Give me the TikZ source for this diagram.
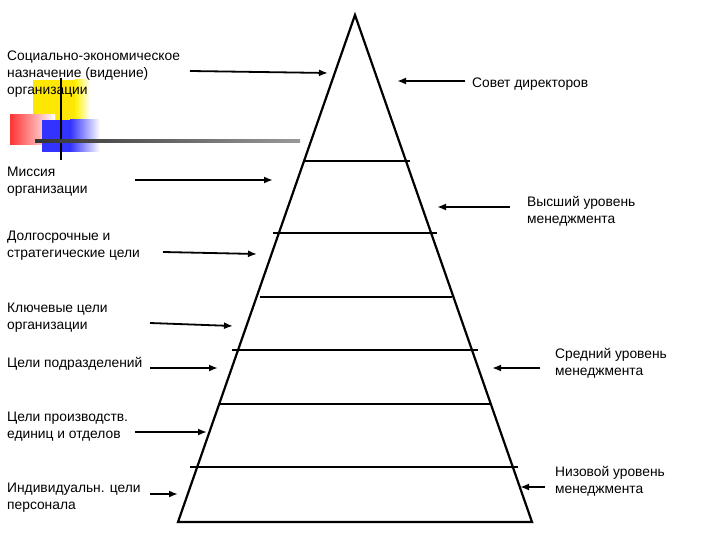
\documentclass[tikz,border=0pt]{standalone}
\usepackage{fontspec}
\setmainfont{Liberation Sans}
\usetikzlibrary{arrows.meta}
\begin{document}
\begin{tikzpicture}[x=1pt,y=-1pt,
 lbl/.style={anchor=north west,align=left,inner sep=0pt,font=\fontsize{13.8}{17}\selectfont},
 arr/.style={-{Latex[length=9pt,width=7pt]},line width=1.8pt},
 lvl/.style={line width=1.8pt}]
\useasboundingbox (0,0) rectangle (720,540);
% decoration
\fill[yellow!90!orange] (33,80) rectangle (75,120);
\shade[left color=yellow!90!orange,right color=white] (75,80) rectangle (90,120);
\shade[left color=red!80,right color=white] (10,115) rectangle (55,145);
\fill[blue!80] (42,120) rectangle (70,152);
\shade[left color=blue!80,right color=white] (70,120) rectangle (100,152);
\draw[line width=2pt] (61,78) -- (61,160);
\shade[left color=black!80,right color=black!40] (35,140) rectangle (300,142.5);
% pyramid
\coordinate (apex) at (355,15);
\coordinate (bl) at (178,522);
\coordinate (br) at (532,522);
\draw[line width=2.2pt,line join=miter] (apex) -- (bl) -- (br) -- cycle;
\foreach \y/\a/\b in {161/303/410,233/273/437,297/260/452,350/232/478,404/220/490,467/190/518}
  \draw[lvl] (\a,\y) -- (\b,\y);
% left labels
\node[lbl] (t1) at (7,51) {Социально-экономическое\\назначение (видение)\\организации};
\node[lbl] (t2) at (7,167) {Миссия\\организации};
\node[lbl] (t3) at (7,231) {Долгосрочные и\\стратегические цели};
\node[lbl] (t4) at (7,303) {Ключевые цели\\организации};
\node[lbl] (t5) at (7,357) {Цели подразделений};
\node[lbl] (t6) at (7,412) {Цели производств.\\единиц и отделов};
\node[lbl] (t7) at (7,483) {Индивидуальн. цели\\персонала};
\node[lbl] (r1) at (472,78) {Совет директоров};
\node[lbl] (r2) at (527,196) {Высший уровень\\менеджмента};
\node[lbl] (r3) at (555,348) {Средний уровень\\менеджмента};
\node[lbl] (r4) at (555,466) {Низовой уровень\\менеджмента};
% arrows
\coordinate (a1) at (190,71); \coordinate (b1) at (328,73);
\coordinate (a2) at (135,180); \coordinate (b2) at (273,180);
\coordinate (a3) at (163,252); \coordinate (b3) at (257,254);
\coordinate (a4) at (150,323); \coordinate (b4) at (233,326);
\coordinate (a5) at (150,368); \coordinate (b5) at (218,368);
\coordinate (a6) at (135,432); \coordinate (b6) at (207,432);
\coordinate (a7) at (150,494); \coordinate (b7) at (178,494);
\foreach \i in {1,...,7} \draw[arr] (a\i) -- (b\i);
\coordinate (c1) at (465,81); \coordinate (d1) at (397,81);
\coordinate (c2) at (510,207); \coordinate (d2) at (437,207);
\coordinate (c3) at (540,368); \coordinate (d3) at (492,368);
\coordinate (c4) at (545,487); \coordinate (d4) at (520,487);
\foreach \i in {1,...,4} \draw[arr] (c\i) -- (d\i);
\end{tikzpicture}
\end{document}
